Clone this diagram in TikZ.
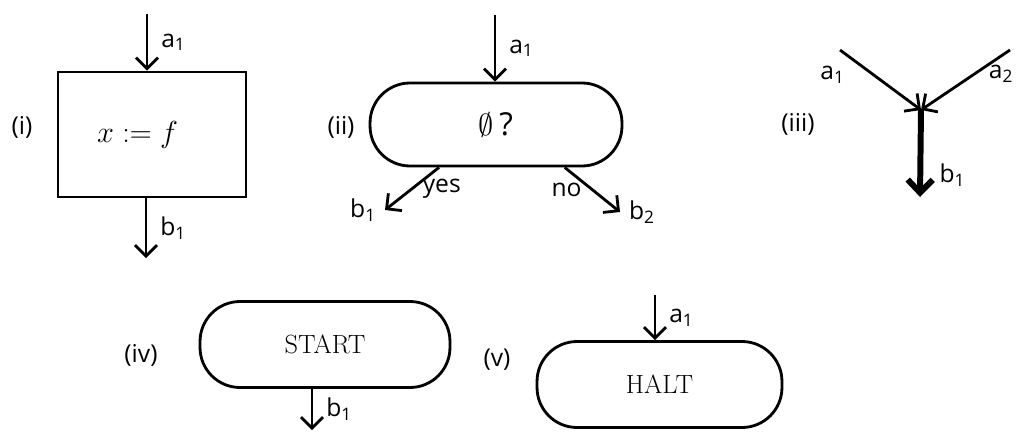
\documentclass[tikz,border=0pt]{standalone}
\usepackage{amssymb}
\usepackage{fontspec}
\newfontfamily\handfont{Open Sans}
\usetikzlibrary{arrows.meta,positioning}
\newcommand{\sub}[2]{#1\textsubscript{#2}}

\begin{document}
\begin{tikzpicture}[
  x=0.02cm,y=-0.02cm,line width=1.6pt,
  font=\handfont\fontsize{14}{16}\selectfont,
  proc/.style={draw,minimum width=3.76cm,minimum height=2.5cm,inner xsep=0.78cm,
    text width=2.2cm,align=left,font=\fontsize{16}{18}\selectfont},
  test/.style={draw,rounded corners=0.8cm,minimum width=5.04cm,minimum height=1.66cm,
    font=\handfont\fontsize{18}{20}\selectfont},
  term/.style={draw,rounded corners=0.8cm,minimum height=1.72cm,
    font=\rmfamily\fontsize{15}{18}\selectfont},
  flow/.style={-{Straight Barb[length=2.2mm,width=4.4mm]}},
  bold/.style={line width=3.4pt,-{Straight Barb[length=2.6mm,width=5mm]}},
  tag/.style={inner sep=1pt}
]
\useasboundingbox (0,0) rectangle (1017,433);
% (i) assignment
\node[proc] (assign) at (152,134.5) {$x\mathrel{:=}f$};
\node[tag] (ti) at (22,127) {(i)};
\coordinate (ain) at (147,14);
\coordinate (aout) at (146,258);
\draw[flow] (ain) -- node[right=4pt] {\sub{a}{1}} (ain |- assign.north);
\draw[flow] (assign.south -| aout) -- node[right=4pt] {\sub{b}{1}} (aout);
% (ii) test
\node[test] (cond) at (496,124.5) {$\emptyset$\,?};
\node[tag] (tii) at (341,127) {(ii)};
\coordinate (cin) at (495,15);
\coordinate (yesend) at (385,210);
\coordinate (noend) at (620,212);
\draw[flow] (cin) -- node[right=4pt] {\sub{a}{1}} (cin |- cond.north);
\draw[flow] (cond.-143.5) -- node[pos=.5,right=2pt] {yes} (yesend) node[left=1pt] {\sub{b}{1}};
\draw[flow] (cond.-32) -- node[pos=.5,left=2pt] {no} (noend) node[right=1pt] {\sub{b}{2}};
% (iii) join
\node[tag] (tiii) at (798,124) {(iii)};
\coordinate (join) at (921,110);
\coordinate (srcl) at (840,50);
\coordinate (srcr) at (1010,50);
\coordinate (sink) at (920,197);
\draw[flow] (srcl) -- node[pos=.15,below left=0pt] {\sub{a}{1}} (join);
\draw[flow] (srcr) -- node[pos=.1,below=1pt] {\sub{a}{2}} (join);
\draw[bold] (join) -- node[pos=.75,right=6pt] {\sub{b}{1}} (sink);
% (iv) start
\node[term,minimum width=5cm] (start) at (325,344.5) {START};
\node[tag] (tiv) at (141,355) {(iv)};
\coordinate (sout) at (312,430);
\draw[flow] (start.south -| sout) -- node[right=4pt] {\sub{b}{1}} (sout);
% (v) halt
\node[term,minimum width=4.9cm] (halt) at (659.5,384.5) {HALT};
\node[tag] (tv) at (497,360) {(v)};
\coordinate (hin) at (655,295);
\draw[flow] (hin) -- node[right=4pt] {\sub{a}{1}} (hin |- halt.north);
\end{tikzpicture}
\end{document}
